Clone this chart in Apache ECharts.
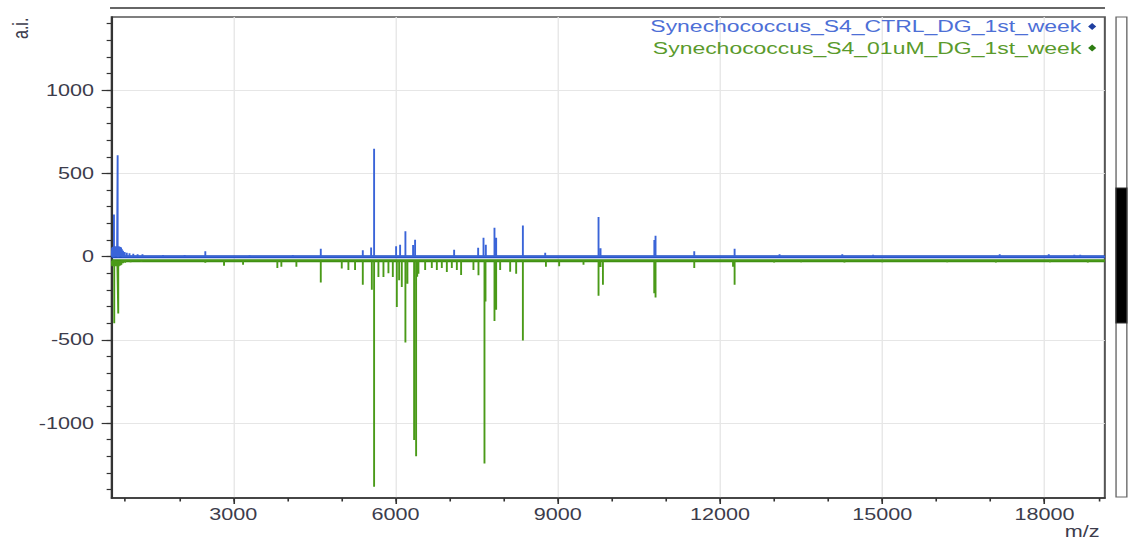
<!DOCTYPE html>
<html>
<head>
<meta charset="utf-8">
<script src="https://cdn.jsdelivr.net/npm/echarts@6/dist/echarts.min.js"></script>
<style>
  html, body { margin: 0; padding: 0; overflow: hidden; background: #fff; }
  /* the source picture is stretched sideways, so the chart is drawn narrow and scaled */
  #spec { width: 835.5px; height: 542px; transform: scaleX(1.35); transform-origin: 0 0; }
</style>
</head>
<body>
<div id="spec"></div>
<script>
// m/z range shown
var mzMin = 750;
var mzMax = 19115;

var xLabelValues = [3000, 6000, 9000, 12000, 15000, 18000];
var xMinorValues = [1000, 2000, 3000, 4000, 5000, 6000, 7000, 8000, 9000, 10000,
                    11000, 12000, 13000, 14000, 15000, 16000, 17000, 18000, 19000];
var yLabelValues = [-1000, -500, 0, 500, 1000];
var yMinorValues = [];
for (var t = -1400; t <= 1400; t += 100) yMinorValues.push(t);

var ctrlName = 'Synechococcus_S4_CTRL_DG_1st_week';
var treatName = 'Synechococcus_S4_01uM_DG_1st_week';

// [m/z, intensity]
var ctrlPeaks = [
  [760, 55], [775, 60], [793, 253], [805, 62], [820, 63], [835, 60], [850, 58],
  [861, 610], [880, 62], [895, 60], [910, 58], [925, 55], [940, 45], [960, 35],
  [990, 28], [1030, 24], [1080, 20], [1150, 18], [1230, 15], [1320, 14],
  [1700, 10], [2100, 10], [2482, 32], [3300, 9], [4100, 10],
  [4617, 48], [5394, 38], [5548, 55], [5603, 648], [6010, 62], [6084, 72],
  [6182, 152], [6324, 70], [6361, 102], [7083, 42], [7527, 54], [7626, 113],
  [7669, 72], [7829, 173], [7860, 114], [8354, 187], [8767, 24], [9753, 239],
  [9790, 50], [10785, 100], [10807, 126], [11523, 32], [12269, 48],
  [13100, 14], [14260, 14], [14830, 12], [17171, 14], [18078, 14], [18550, 12], [18660, 12]
];

var treatPeaks = [
  [760, -57], [775, -57], [798, -400], [810, -57], [825, -57], [840, -57], [855, -57],
  [872, -342], [885, -57], [900, -55], [915, -52], [930, -48], [960, -40], [1000, -36],
  [1100, -33], [1300, -32], [2482, -37], [2828, -54], [3180, -48], [3814, -68],
  [3888, -60], [4166, -60], [4617, -155], [5005, -71], [5128, -80], [5251, -80],
  [5394, -169], [5561, -199], [5603, -1383], [5683, -122], [5776, -122], [5868, -99],
  [5949, -122], [6023, -303], [6066, -141], [6115, -182], [6182, -516], [6219, -162],
  [6343, -1102], [6380, -1199], [6400, -120], [6423, -102], [6547, -80], [6670, -68],
  [6763, -80], [6855, -68], [6948, -92], [7040, -68], [7133, -80], [7212, -110],
  [7440, -80], [7533, -112], [7644, -1243], [7663, -269], [7829, -386], [7860, -319],
  [7934, -80], [8119, -90], [8230, -102], [8354, -504], [8780, -61], [9025, -58],
  [9475, -48], [9753, -235], [9770, -60], [9790, -62], [9834, -169], [10783, -220],
  [10807, -245], [11523, -68], [12240, -60], [12269, -169],
  [13000, -35], [13500, -34], [14300, -35], [15000, -33], [16200, -34],
  [17100, -35], [18100, -34], [18800, -35]
];

var ctrlBase = 0;
var treatBase = -24;

function sticks(peaks, base) {
  var out = [[mzMin, base]];
  peaks.slice().sort(function (a, b) { return a[0] - b[0]; }).forEach(function (p) {
    out.push([p[0], base], [p[0], p[1]], [p[0], base]);
  });
  out.push([mzMax, base]);
  return out;
}

var labelColor = '#3c3c4c';
var fontFam = 'Liberation Sans, Arial, sans-serif';
var plain = function (v) { return String(v); };

var dom = document.getElementById('spec');
var myChart = echarts.init(dom, null, { renderer: 'svg' });

function legendFor(name, top, textColor, iconColor) {
  return {
    orient: 'vertical',
    right: 19,
    top: top,
    align: 'right',
    icon: 'diamond',
    itemWidth: 6,
    itemHeight: 7,
    itemGap: 5,
    textStyle: { fontSize: 17, fontFamily: fontFam },
    data: [{ name: name, textStyle: { color: textColor }, itemStyle: { color: iconColor } }]
  };
}

var option = {
  animation: false,
  backgroundColor: '#fff',
  grid: { left: 82.7, right: 17.6, top: 17, bottom: 44, show: true, borderColor: '#555', borderWidth: 1.5 },
  legend: [
    legendFor(ctrlName, 13, '#4d6fd6', '#1f3fa0'),
    legendFor(treatName, 34.5, '#5a9a2c', '#2e7d12')
  ],
  xAxis: [
    {
      type: 'value', min: mzMin, max: mzMax,
      axisLine: { show: true, onZero: false, lineStyle: { color: '#333', width: 1.5 } },
      axisTick: { show: true, length: 6, customValues: xLabelValues, lineStyle: { color: '#333', width: 1.2 } },
      axisLabel: { customValues: xLabelValues, formatter: plain, margin: 9, fontSize: 16, color: labelColor, fontFamily: fontFam },
      splitLine: { show: true, lineStyle: { color: '#e6e6e6', width: 1 } }
    },
    {
      type: 'value', min: mzMin, max: mzMax, position: 'bottom',
      axisLine: { show: false, onZero: false },
      axisTick: { show: true, length: 3.5, customValues: xMinorValues, lineStyle: { color: '#333', width: 1.2 } },
      axisLabel: { show: false },
      splitLine: { show: false }
    }
  ],
  yAxis: [
    {
      type: 'value', min: -1450, max: 1440,
      axisLine: { show: true, onZero: false, lineStyle: { color: '#333', width: 1.5 } },
      axisTick: { show: true, length: 7.4, customValues: yLabelValues, lineStyle: { color: '#333', width: 1.2 } },
      axisLabel: { customValues: yLabelValues, formatter: plain, margin: 13, fontSize: 16, color: labelColor, fontFamily: fontFam },
      splitLine: { show: true, lineStyle: { color: '#e6e6e6', width: 1 } }
    },
    {
      type: 'value', min: -1450, max: 1440, position: 'left',
      axisLine: { show: false, onZero: false },
      axisTick: { show: true, length: 3.7, customValues: yMinorValues, lineStyle: { color: '#333', width: 1.2 } },
      axisLabel: { show: false },
      splitLine: { show: false }
    }
  ],
  graphic: [
    { type: 'line', shape: { x1: 81.5, y1: 8, x2: 818.5, y2: 8 }, style: { stroke: '#333', lineWidth: 1.5 } },
    { type: 'text', x: 7, y: 39, rotation: Math.PI / 2,
      style: { text: 'a.i.', fill: labelColor, font: '16px Liberation Sans, Arial, sans-serif' } },
    { type: 'text', x: 814.5, y: 524,
      style: { text: 'm/z', fill: labelColor, align: 'right', font: '16px Liberation Sans, Arial, sans-serif' } },
    { type: 'rect', shape: { x: 826.7, y: 17, width: 8, height: 480 }, style: { fill: '#fff', stroke: '#666', lineWidth: 1 } },
    { type: 'rect', shape: { x: 826.7, y: 188, width: 8, height: 135 }, style: { fill: '#000', stroke: '#333', lineWidth: 1 } }
  ],
  series: [
    {
      name: treatName, type: 'line', showSymbol: false, silent: true,
      lineStyle: { color: '#3d8c10', width: 3 }, itemStyle: { color: '#2e7d12' },
      data: [[mzMin, treatBase], [mzMax, treatBase]]
    },
    {
      name: treatName, type: 'line', showSymbol: false, silent: true,
      lineStyle: { color: '#4a9a18', width: 1.4 }, itemStyle: { color: '#2e7d12' },
      data: sticks(treatPeaks, treatBase)
    },
    {
      name: ctrlName, type: 'line', showSymbol: false, silent: true,
      lineStyle: { color: '#1e4ec0', width: 3 }, itemStyle: { color: '#1f3fa0' },
      data: [[mzMin, ctrlBase], [mzMax, ctrlBase]]
    },
    {
      name: ctrlName, type: 'line', showSymbol: false, silent: true,
      lineStyle: { color: '#3a64d8', width: 1.4 }, itemStyle: { color: '#1f3fa0' },
      data: sticks(ctrlPeaks, ctrlBase)
    }
  ]
};

myChart.setOption(option);
</script>
</body>
</html>
